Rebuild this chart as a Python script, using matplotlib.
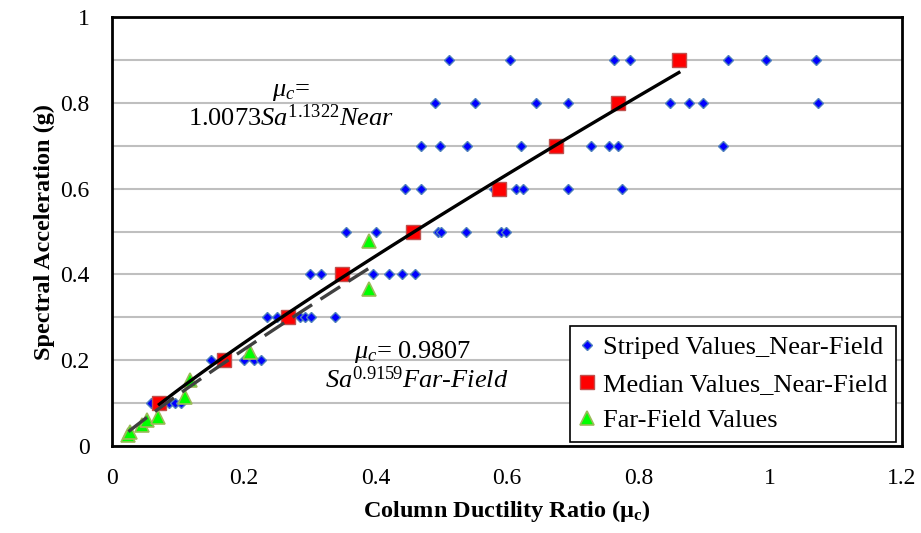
import numpy as np
import matplotlib
matplotlib.use("Agg")
import matplotlib.pyplot as plt

plt.rcParams['font.family'] = ['Liberation Serif', 'DejaVu Serif']
plt.rcParams['mathtext.fontset'] = 'custom'
plt.rcParams['mathtext.rm'] = 'Liberation Serif'
plt.rcParams['mathtext.it'] = 'Liberation Serif:italic'
plt.rcParams['mathtext.bf'] = 'Liberation Serif:bold'

# striped values, near-field: (mu_c, Sa)
striped_mu = [0.060, 0.086, 0.096, 0.105,
              0.150, 0.201, 0.216, 0.226,
              0.235, 0.250, 0.285, 0.293, 0.303, 0.338,
              0.300, 0.318, 0.396, 0.421, 0.440, 0.460,
              0.356, 0.401, 0.495, 0.500, 0.537, 0.591, 0.598,
              0.445, 0.470, 0.580, 0.613, 0.625, 0.692, 0.774,
              0.469, 0.498, 0.539, 0.621, 0.727, 0.755, 0.769, 0.928,
              0.490, 0.551, 0.644, 0.692, 0.847, 0.876, 0.898, 1.073,
              0.512, 0.604, 0.763, 0.787, 0.935, 0.993, 1.070]
striped_sa = [0.1] * 4 + [0.2] * 4 + [0.3] * 6 + [0.4] * 6 + [0.5] * 7 \
    + [0.6] * 7 + [0.7] * 8 + [0.8] * 8 + [0.9] * 7

# median values, near-field
median_mu = [0.072, 0.170, 0.268, 0.350, 0.457, 0.588, 0.674, 0.769, 0.861]
median_sa = [0.1, 0.2, 0.3, 0.4, 0.5, 0.6, 0.7, 0.8, 0.9]

# far-field values
far_mu = [0.025, 0.027, 0.045, 0.053, 0.070, 0.111, 0.118, 0.210, 0.390, 0.390]
far_sa = [0.026, 0.033, 0.049, 0.060, 0.068, 0.115, 0.153, 0.219, 0.367, 0.479]

# power trendline coefficients shown on the chart
near_a, near_b = 1.0073, 1.1322   # mu = a * Sa^b
far_a, far_b = 0.9807, 0.9159     # Sa = a * mu^b

fig = plt.figure(figsize=(9.21, 5.33), dpi=100)
ax = fig.add_axes([0.1216, 0.1632, 0.8578, 0.8049])

ax.plot(striped_mu, striped_sa, linestyle='none', marker='D', markersize=5,
        markerfacecolor='#0000FF', markeredgecolor='#4F81BD', markeredgewidth=1,
        label='Striped Values_Near-Field', zorder=3)
ax.plot(median_mu, median_sa, linestyle='none', marker='s', markersize=10,
        markerfacecolor='#FF0000', markeredgecolor='#C0504D', markeredgewidth=1,
        label='Median Values_Near-Field', zorder=4)
ax.plot(far_mu, far_sa, linestyle='none', marker='^', markersize=10.5,
        markerfacecolor='#00FF00', markeredgecolor='#9BBB59', markeredgewidth=1.2,
        label='Far-Field Values', zorder=4)

# trendlines
mu_near = np.linspace(min(median_mu), max(median_mu), 100)
ax.plot(mu_near, (mu_near / near_a) ** (1 / near_b), color='black', lw=2.4, zorder=5)
mu_far = np.linspace(min(far_mu), max(far_mu), 100)
ax.plot(mu_far, far_a * mu_far ** far_b, color='#404040', lw=2.4,
        dashes=(7, 3), zorder=5)

ax.text(0.272, 0.825, r'$\mu_c$=', fontsize=19, ha='center', va='center')
ax.text(0.272, 0.765, r'1.0073$\mathit{Sa}^{\mathrm{1.1322}}\mathit{Near}$',
        fontsize=19, ha='center', va='center')
ax.text(0.457, 0.219, r'$\mu_c$= 0.9807', fontsize=19, ha='center', va='center')
ax.text(0.462, 0.154, r'$\mathit{Sa}^{\mathrm{0.9159}}\mathit{Far}$-$\mathit{Field}$',
        fontsize=19, ha='center', va='center')

ax.set_xlim(0, 1.2)
ax.set_ylim(0, 1)
ax.set_xticks(np.arange(0, 1.21, 0.2))
ax.set_xticklabels(['0', '0.2', '0.4', '0.6', '0.8', '1', '1.2'])
ax.set_yticks(np.arange(0, 1.01, 0.2))
ax.set_yticklabels(['0', '0.2', '0.4', '0.6', '0.8', '1'])
ax.set_yticks(np.arange(0, 1.01, 0.1), minor=True)
ax.grid(True, which='both', axis='y', color='#BFBFBF', lw=1.5, zorder=0)
ax.set_axisbelow(True)
ax.tick_params(which='both', length=0, labelsize=17)
ax.tick_params(axis='y', pad=16)
ax.tick_params(axis='x', pad=16)
for s in ax.spines.values():
    s.set_linewidth(2)
    s.set_color('black')

ax.set_xlabel(r'Column Ductility Ratio ($\mathbf{\mu}_{\mathbf{c}}$)', fontsize=17.5,
              fontweight='bold', labelpad=6)
ax.set_ylabel('Spectral Acceleration (g)', fontsize=17.5, fontweight='bold', labelpad=4)

leg = ax.legend(loc='lower right', bbox_to_anchor=(0.993, 0.01), fontsize=19,
                frameon=True, fancybox=False, edgecolor='black', framealpha=1,
                handlelength=0.6, handletextpad=0.3, borderpad=0.35,
                labelspacing=0.5, borderaxespad=0)
leg.get_frame().set_linewidth(1.2)

fig.savefig('out.png', dpi=100)
